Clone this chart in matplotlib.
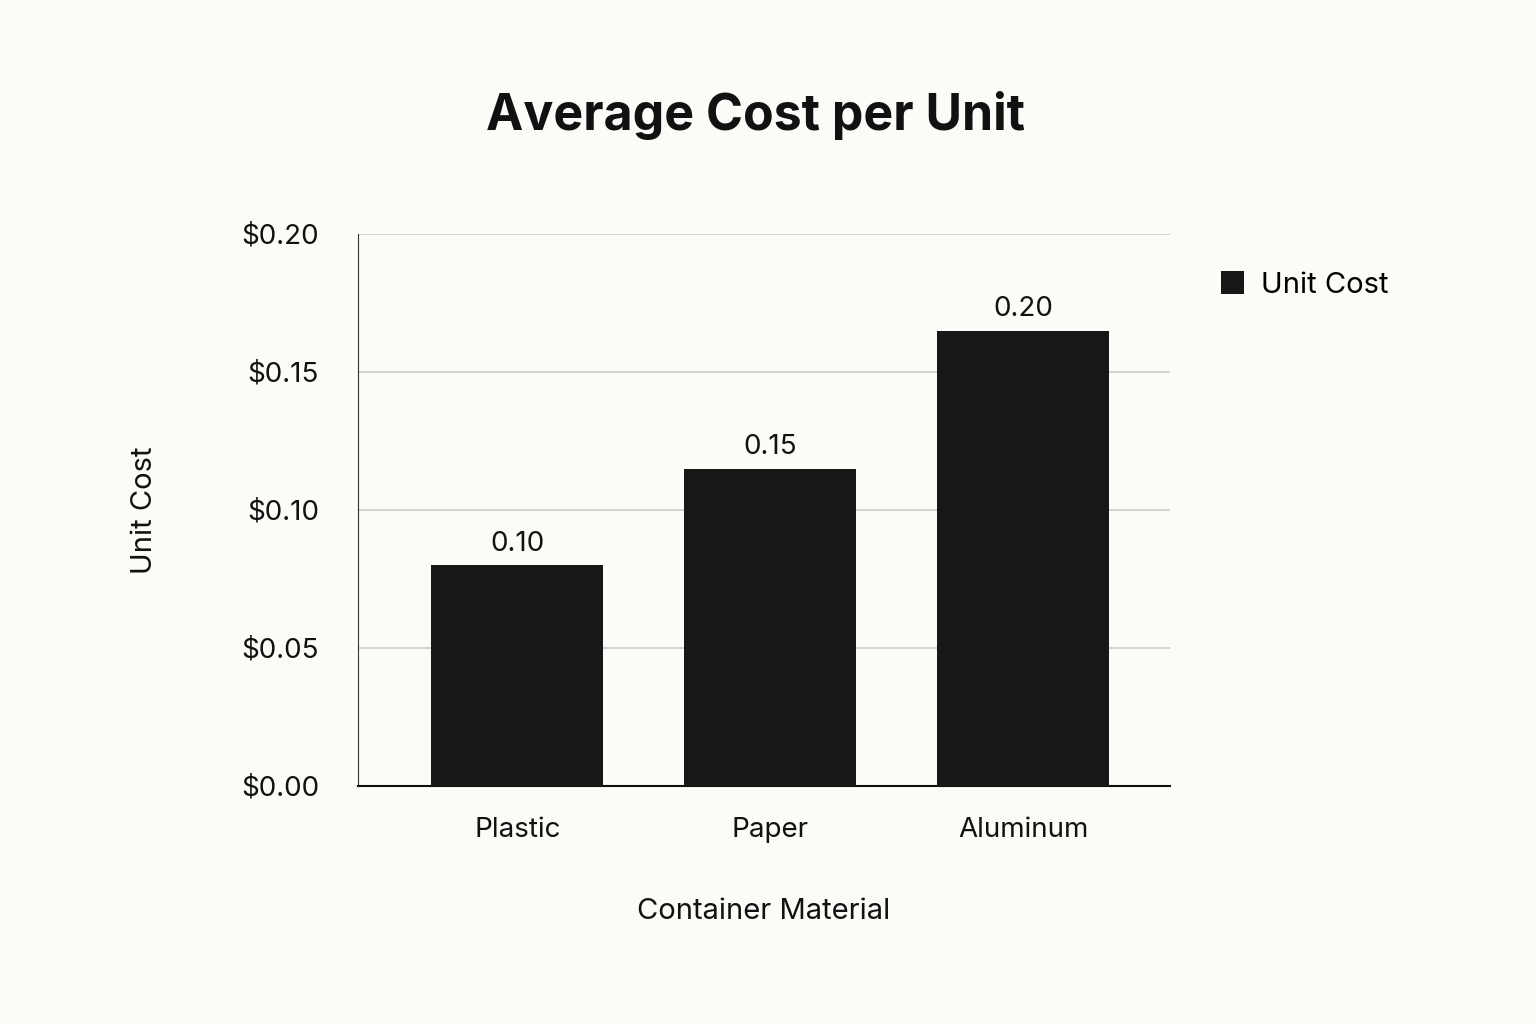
import matplotlib
matplotlib.use("Agg")
import matplotlib.pyplot as plt
from matplotlib.ticker import FuncFormatter

categories = ["Plastic", "Paper", "Aluminum"]
bar_heights = [0.08, 0.115, 0.165]
bar_labels = ["0.10", "0.15", "0.20"]
y_ticks = [0.0, 0.05, 0.10, 0.15, 0.20]

plt.rcParams["font.family"] = "Inter"
bg = "#fcfbf7"
fig = plt.figure(figsize=(15.36, 10.24), dpi=100, facecolor=bg)
ax = fig.add_axes([358/1536, 1-786/1024, (1170-358)/1536, (786-234)/1024], facecolor=bg)
x = list(range(len(categories)))
bars = ax.bar(x, bar_heights, width=0.68, color="#171717", label="Unit Cost", zorder=3)
for xi, h, lab in zip(x, bar_heights, bar_labels):
    ax.text(xi, h + 0.003, lab, ha="center", va="bottom", fontsize=20, color="#111")
ax.set_xlim(-0.63, 2.58)
ax.set_ylim(0, 0.20)
ax.set_yticks(y_ticks)
ax.yaxis.set_major_formatter(FuncFormatter(lambda v, p: f"${v:.2f}"))
ax.set_xticks(x)
ax.set_xticklabels(categories)
ax.tick_params(axis="both", length=0, labelsize=20, colors="#111")
ax.tick_params(axis="x", pad=22)
ax.tick_params(axis="y", pad=28)
ax.grid(axis="y", color="#cccccc", linewidth=1.2, zorder=0)
for s in ["top", "right"]:
    ax.spines[s].set_visible(False)
ax.spines["left"].set_color("#333")
ax.spines["bottom"].set_color("#111")
ax.spines["bottom"].set_linewidth(1.5)
ax.set_xlabel("Container Material", fontsize=21, labelpad=40, color="#111")
ax.set_ylabel("Unit Cost", fontsize=21, labelpad=60, color="#111")
fig.text(755/1536, 1-115/1024, "Average Cost per Unit", ha="center", va="center",
         fontsize=36, fontweight="bold", color="#111")
leg = ax.legend(loc="upper left", bbox_to_anchor=(1.03, 0.98), frameon=False,
                fontsize=21, handlelength=0.8, handleheight=0.8, handletextpad=0.6)
fig.savefig("out.png", dpi=100, facecolor=bg)
